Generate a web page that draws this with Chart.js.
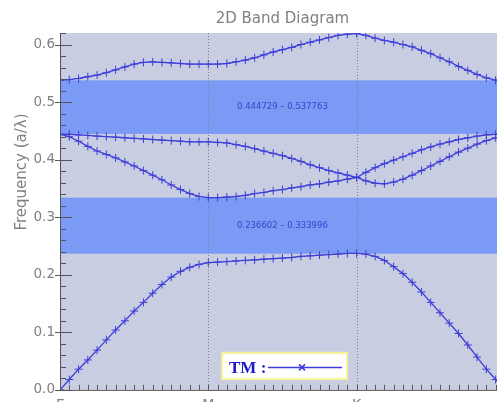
<!DOCTYPE html>
<html lang="en">
<head>
<meta charset="UTF-8">
<title>2D Band Diagram</title>
<style>
  html, body { margin: 0; padding: 0; background: #fff; overflow: hidden; }
</style>
<script src="https://cdn.jsdelivr.net/npm/chart.js"></script>
</head>
<body>
<canvas id="bandChart" width="502" height="403"></canvas>
<script>
// k-path: Γ -> M -> K -> Γ, 16 steps per segment
const kLabels = ['Γ', 'M', 'K'];
const kTickIndex = [0, 16, 32];
const yTicks = [0, 0.1, 0.2, 0.3, 0.4, 0.5, 0.6];

const band1 = [0, 0.018, 0.036, 0.052, 0.069, 0.087, 0.104, 0.120, 0.137, 0.152, 0.168, 0.183, 0.196, 0.206, 0.213, 0.218, 0.221,
  0.222, 0.223, 0.224, 0.225, 0.226, 0.227, 0.228, 0.229, 0.230, 0.232, 0.233, 0.234, 0.235, 0.236, 0.237, 0.237,
  0.236, 0.232, 0.225, 0.214, 0.202, 0.187, 0.170, 0.152, 0.134, 0.116, 0.098, 0.078, 0.057, 0.036, 0.018, 0.0];
const band2 = [0.444, 0.440, 0.432, 0.423, 0.415, 0.409, 0.403, 0.396, 0.389, 0.381, 0.373, 0.365, 0.356, 0.348, 0.341, 0.336, 0.334,
  0.334, 0.335, 0.336, 0.338, 0.341, 0.343, 0.346, 0.348, 0.351, 0.353, 0.356, 0.358, 0.361, 0.363, 0.366, 0.369,
  0.363, 0.359, 0.358, 0.361, 0.366, 0.373, 0.381, 0.389, 0.397, 0.405, 0.413, 0.420, 0.427, 0.433, 0.438, 0.443];
const band3 = [0.444, 0.444, 0.443, 0.442, 0.441, 0.440, 0.439, 0.438, 0.437, 0.436, 0.435, 0.434, 0.433, 0.432, 0.431, 0.431, 0.431,
  0.430, 0.429, 0.426, 0.423, 0.419, 0.415, 0.411, 0.407, 0.402, 0.397, 0.391, 0.386, 0.381, 0.377, 0.373, 0.369,
  0.378, 0.386, 0.393, 0.399, 0.405, 0.411, 0.417, 0.422, 0.427, 0.431, 0.435, 0.438, 0.441, 0.443, 0.444, 0.445];
const band4 = [0.538, 0.539, 0.541, 0.544, 0.547, 0.551, 0.556, 0.561, 0.566, 0.569, 0.570, 0.569, 0.568, 0.567, 0.566, 0.566, 0.566,
  0.566, 0.567, 0.570, 0.573, 0.577, 0.582, 0.587, 0.591, 0.595, 0.600, 0.604, 0.608, 0.612, 0.616, 0.618, 0.619,
  0.616, 0.611, 0.607, 0.604, 0.600, 0.596, 0.590, 0.584, 0.577, 0.570, 0.562, 0.555, 0.548, 0.542, 0.538, 0.538];

// band gaps (lower edge, upper edge)
const gapLow = [0.236602, 0.333996];
const gapHigh = [0.444729, 0.537763];

const lineColor = 'rgb(62, 62, 216)';
const plotBg = 'rgb(200, 205, 226)';
const gapColor = 'rgb(122, 154, 245)';
const axisGray = '#808080';

function toPoints(arr) {
  return arr.map((v, i) => ({ x: i, y: v }));
}

const bandPlot = {
  id: 'bandPlot',
  beforeDatasetsDraw(chart) {
    const { ctx, chartArea: a, scales: { x, y } } = chart;
    ctx.save();
    ctx.fillStyle = plotBg;
    ctx.fillRect(a.left, a.top, a.right - a.left, a.bottom - a.top);
    [gapLow, gapHigh].forEach(g => {
      const y0 = y.getPixelForValue(g[0]);
      const y1 = y.getPixelForValue(g[1]);
      ctx.fillStyle = gapColor;
      ctx.fillRect(a.left, y1, a.right - a.left, y0 - y1);
    });
    // dotted lines at symmetry points
    ctx.strokeStyle = '#7d7d8c';
    ctx.lineWidth = 1;
    ctx.setLineDash([1, 2]);
    kTickIndex.slice(1).forEach(k => {
      const px = Math.round(x.getPixelForValue(k)) + 0.5;
      ctx.beginPath();
      ctx.moveTo(px, a.top);
      ctx.lineTo(px, a.bottom);
      ctx.stroke();
    });
    ctx.setLineDash([]);
    // gap labels
    ctx.font = '8.5px "DejaVu Sans"';
    ctx.fillStyle = '#3346cc';
    ctx.textAlign = 'center';
    ctx.textBaseline = 'middle';
    const cx = x.getPixelForValue(24);
    [gapLow, gapHigh].forEach(g => {
      ctx.fillText(g[0].toFixed(6) + ' \u2013 ' + g[1].toFixed(6), cx, y.getPixelForValue((g[0] + g[1]) / 2));
    });
    ctx.restore();
  },
  afterDatasetsDraw(chart) {
    const { ctx, chartArea: a, scales: { x, y } } = chart;
    ctx.save();
    ctx.strokeStyle = '#555555';
    ctx.lineWidth = 1;
    // axes
    ctx.beginPath();
    ctx.moveTo(a.left + 0.5, a.top);
    ctx.lineTo(a.left + 0.5, a.bottom + 0.5);
    ctx.lineTo(a.right, a.bottom + 0.5);
    ctx.stroke();
    // y ticks: major every 0.1, minor every 0.02
    for (let i = 0; i <= 31; i++) {
      const py = Math.round(y.getPixelForValue(i * 0.02)) + 0.5;
      const major = i % 5 === 0;
      ctx.beginPath();
      ctx.moveTo(a.left - (major ? 5 : 0), py);
      ctx.lineTo(a.left + (major ? 12 : 6), py);
      ctx.stroke();
    }
    // x ticks at every k point
    for (let i = 0; i <= 48; i++) {
      const px = Math.round(x.getPixelForValue(i)) + 0.5;
      if (px > a.right) break;
      ctx.beginPath();
      ctx.moveTo(px, a.bottom);
      ctx.lineTo(px, a.bottom - 5);
      ctx.stroke();
    }
    // title
    ctx.fillStyle = axisGray;
    ctx.font = '15px "DejaVu Sans"';
    ctx.textAlign = 'center';
    ctx.textBaseline = 'middle';
    ctx.fillText('2D Band Diagram', x.getPixelForValue(24), 19);
    // y axis title
    ctx.save();
    ctx.translate(22, 172);
    ctx.rotate(-Math.PI / 2);
    ctx.fillText('Frequency (a/\u03bb)', 0, 0);
    ctx.restore();
    // legend box
    const bx = a.left + 161, by = a.bottom - 38, bw = 127, bh = 28;
    ctx.fillStyle = '#ffffff';
    ctx.fillRect(bx, by, bw, bh);
    ctx.strokeStyle = 'rgb(244, 244, 150)';
    ctx.lineWidth = 2;
    ctx.strokeRect(bx + 1, by + 1, bw - 2, bh - 2);
    ctx.fillStyle = '#1a1acc';
    ctx.font = 'bold 17px "Liberation Serif"';
    ctx.textAlign = 'left';
    ctx.textBaseline = 'alphabetic';
    ctx.fillText('TM :', bx + 8, by + 21);
    ctx.strokeStyle = lineColor;
    ctx.lineWidth = 1.5;
    ctx.beginPath();
    ctx.moveTo(bx + 47, by + 15.5);
    ctx.lineTo(bx + 121, by + 15.5);
    ctx.moveTo(bx + 78, by + 12.5);
    ctx.lineTo(bx + 84, by + 18.5);
    ctx.moveTo(bx + 84, by + 12.5);
    ctx.lineTo(bx + 78, by + 18.5);
    ctx.stroke();
    ctx.restore();
  }
};

const datasets = [band1, band2, band3, band4].map((b, i) => ({
  label: 'band ' + (i + 1),
  data: toPoints(b),
  borderColor: lineColor,
  backgroundColor: lineColor,
  borderWidth: 1.3,
  pointStyle: 'cross',
  pointRadius: 4,
  pointBorderWidth: 1,
  pointBorderColor: lineColor,
  tension: 0
}));

new Chart(document.getElementById('bandChart').getContext('2d'), {
  type: 'line',
  data: { datasets: datasets },
  options: {
    responsive: false,
    animation: false,
    layout: { padding: { top: 33, left: 0, right: 0, bottom: 0 } },
    scales: {
      x: {
        type: 'linear',
        min: 0,
        max: 47.15,
        grid: { display: false, drawTicks: false },
        border: { display: false },
        afterBuildTicks: s => { s.ticks = kTickIndex.map(v => ({ value: v })); },
        afterFit: s => { s.height = 12; },
        ticks: {
          padding: 7,
          color: axisGray,
          font: { family: 'DejaVu Sans', size: 14 },
          maxRotation: 0,
          autoSkip: false,
          callback: v => kLabels[kTickIndex.indexOf(v)]
        }
      },
      y: {
        min: 0,
        max: 0.62,
        grid: { display: false, drawTicks: false },
        border: { display: false },
        afterBuildTicks: s => { s.ticks = yTicks.map(v => ({ value: v })); },
        afterFit: s => { s.width = 60; },
        ticks: {
          padding: 5,
          color: axisGray,
          font: { family: 'DejaVu Sans', size: 13.5 },
          callback: v => v.toFixed(1)
        }
      }
    },
    plugins: {
      legend: { display: false },
      tooltip: { enabled: false }
    }
  },
  plugins: [bandPlot]
});
</script>
</body>
</html>
